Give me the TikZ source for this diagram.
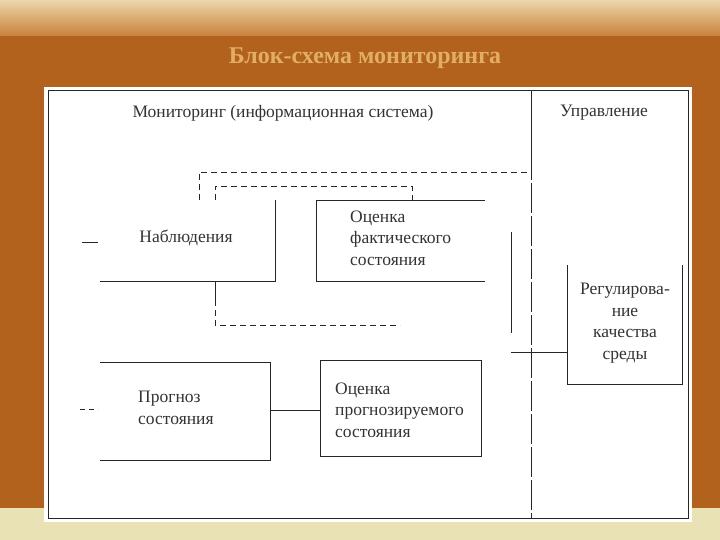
\documentclass[tikz,border=0pt]{standalone}
\usepackage{fontspec}
\setmainfont{Liberation Serif}
\definecolor{bgbrown}{RGB}{178,98,28}
\definecolor{bgtop}{RGB}{236,214,170}
\definecolor{bgtop2}{RGB}{200,130,60}
\definecolor{bgbot}{RGB}{232,226,180}
\definecolor{titlec}{RGB}{225,175,100}
\begin{document}
\begin{tikzpicture}[x=1pt,y=-1pt,
  ln/.style={line width=0.8pt,black!85},
  dsh/.style={ln,dash pattern=on 6pt off 4pt},
  txt/.style={font=\fontsize{17.5}{21.5}\selectfont,text=black!80,inner sep=0},
  lt/.style={txt,anchor=west,align=left}]
\useasboundingbox (0,0) rectangle (720,540);
% background
\fill[bgbrown] (0,0) rectangle (720,540);
\shade[top color=bgtop,bottom color=bgtop2] (0,0) rectangle (720,36);
\fill[bgbot] (0,508) rectangle (720,540);
\node[font=\bfseries\fontsize{24}{26}\selectfont,text=titlec] (title) at (365,58) {Блок-схема мониторинга};
% panel
\fill[white] (44,87) rectangle (692,522);
\draw[ln] (48,90) rectangle (688,518);
\draw[ln] (531,90) -- (531,150);
\draw[ln,dash pattern=on 30pt off 3pt] (531,150) -- (531,518);
\node[txt] (h1) at (283,113) {Мониторинг (информационная система)};
\node[txt] (h2) at (604,113) {Управление};
% dashed loops
\draw[dsh] (199,200) -- (199,172) -- (531,172);
\draw[dsh] (215,200) -- (215,186) -- (412,186) -- (412,200);
% Наблюдения
\draw[ln] (275,200) -- (275,281) -- (100,281);
\draw[ln] (82,242) -- (98,242);
\node[txt] (nab) at (186,238) {Наблюдения};
\draw[ln] (215,281) -- (215,300);
\draw[dsh] (215,300) -- (215,325) -- (400,325);
% Оценка фактического
\draw[ln] (485,200) -- (316,200) -- (316,281) -- (485,281);
\node[lt] (of) at (350,238) {Оценка\\фактического\\состояния};
\draw[ln] (511,232) -- (511,333);
\coordinate (c1) at (511,352);
% Регулирование
\draw[ln] (567,265) -- (567,384) -- (682,384) -- (682,265);
\node[txt,align=center] (reg) at (625,323) {Регулирова-\\ние\\качества\\среды};
\draw[ln] (c1) -- (567,352);
% Прогноз
\draw[ln] (100,362) -- (270,362) -- (270,460) -- (100,460);
\draw[ln,dash pattern=on 5pt off 4pt] (80,409) -- (98,409);
\node[lt] (pr) at (138,408) {Прогноз\\состояния};
% Оценка прогнозируемого
\draw[ln] (320,360) rectangle (481,456);
\node[lt] (op) at (335,410) {Оценка\\прогнозируемого\\состояния};
\draw[ln] (270,410) -- (320,410);
\end{tikzpicture}
\end{document}
